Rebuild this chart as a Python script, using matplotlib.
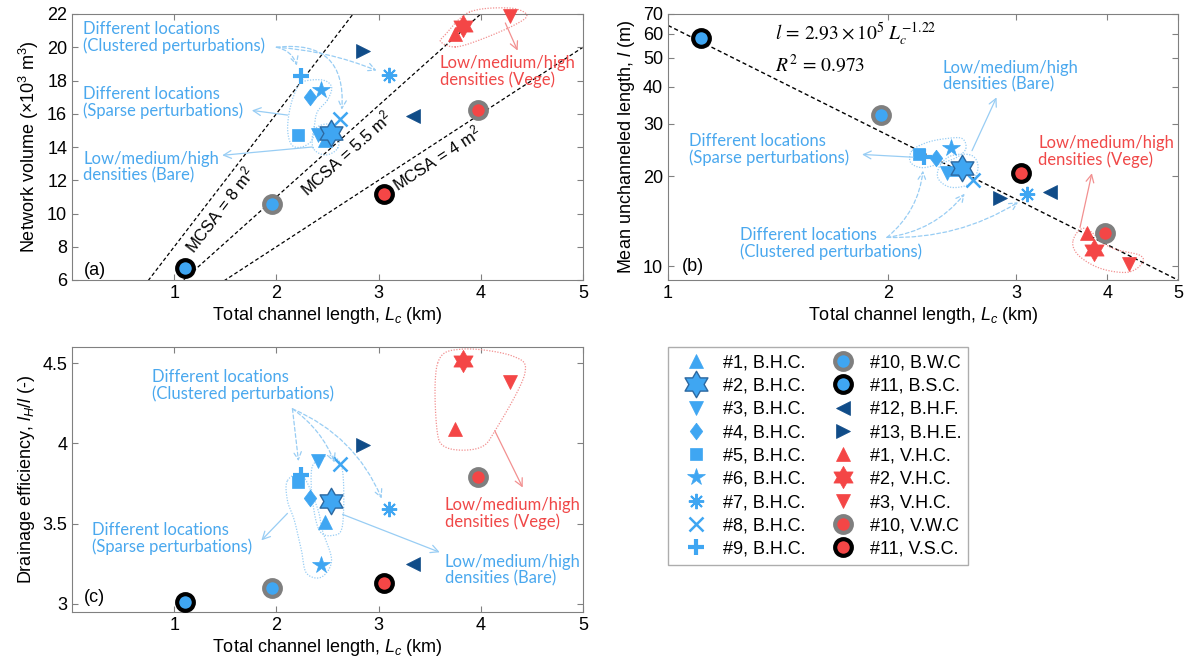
import numpy as np
import matplotlib
matplotlib.use("Agg")
import matplotlib.pyplot as plt
from matplotlib.path import Path
from matplotlib.ticker import ScalarFormatter, NullLocator

plt.rcParams["font.family"] = ["Liberation Sans", "DejaVu Sans"]
plt.rcParams["mathtext.fontset"] = "custom"
plt.rcParams["mathtext.rm"] = "Liberation Sans"
plt.rcParams["mathtext.it"] = "Liberation Sans:italic"
plt.rcParams["mathtext.bf"] = "Liberation Sans:bold"

# Runs: bare (B) and vegetated (V) plots
labels = ["#1, B.H.C.", "#2, B.H.C.", "#3, B.H.C.", "#4, B.H.C.", "#5, B.H.C.",
          "#6, B.H.C.", "#7, B.H.C.", "#8, B.H.C.", "#9, B.H.C.",
          "#10, B.W.C", "#11, B.S.C.", "#12, B.H.F.", "#13, B.H.E.",
          "#1, V.H.C.", "#2, V.H.C.", "#3, V.H.C.", "#10, V.W.C", "#11, V.S.C."]

# Total channel length Lc (km)
lc_km = [2.48, 2.53, 2.41, 2.33, 2.21, 2.44, 3.10, 2.62, 2.24,
         1.96, 1.11, 3.34, 2.85, 3.75, 3.83, 4.29, 3.97, 3.05]
# Network volume (x10^3 m^3)
volume = [14.4, 14.85, 14.7, 17.0, 14.7, 17.45, 18.35, 15.7, 18.3,
          10.55, 6.7, 15.85, 19.75, 20.8, 21.3, 21.85, 16.2, 11.2]
# Mean unchanneled length l (m)
unchanneled = [21.2, 21.3, 20.5, 23.0, 23.8, 25.0, 17.5, 19.4, 23.2,
               32.2, 58.3, 17.7, 17.0, 12.9, 11.3, 10.2, 12.9, 20.5]
# Drainage efficiency lH/l (-)
efficiency = [3.51, 3.64, 3.89, 3.66, 3.76, 3.24, 3.59, 3.87, 3.80,
              3.10, 3.01, 3.25, 3.99, 4.09, 4.51, 4.38, 3.79, 3.13]

# MCSA reference lines (m^2) and the power-law fit of l against Lc
mcsa_values = [8, 5.5, 4]
fit_coef, fit_exp, fit_r2 = 2.93e5, -1.22, 0.973

BLUE = "#3fa6f2"
DARK = "#104c88"
RED = "#f44646"
GREY = "#7f7f7f"
TXT_BLUE = "#4aa8ee"
ARR_BLUE = "#98cdf4"
TXT_RED = "#f04848"
ARR_RED = "#f29090"

hexagram = Path.unit_regular_star(6, 1 / np.sqrt(3))
diamond = [(0, 1), (0.75, 0), (0, -1), (-0.75, 0), (0, 1)]

# marker, size, face, edge, edge width
styles = [
    ("^", 10, BLUE, BLUE, 0.5),
    (hexagram, 19, BLUE, "#2c68a0", 1.0),
    ("v", 10, BLUE, BLUE, 0.5),
    (diamond, 12, BLUE, BLUE, 0.5),
    ("s", 8, BLUE, BLUE, 0.5),
    ("*", 13, BLUE, BLUE, 0.5),
    ((8, 2, 0), 11, BLUE, BLUE, 1.4),
    ("x", 10, BLUE, BLUE, 1.8),
    ("+", 12, BLUE, BLUE, 3.0),
    ("o", 12, BLUE, GREY, 3.0),
    ("o", 12, BLUE, "black", 3.0),
    ("<", 10, DARK, DARK, 0.5),
    (">", 10, DARK, DARK, 0.5),
    ("^", 10, RED, RED, 0.5),
    (hexagram, 16, RED, RED, 0.5),
    ("v", 10, RED, RED, 0.5),
    ("o", 12, RED, GREY, 3.0),
    ("o", 12, RED, "black", 3.0),
]

W, H = 1189, 664
fig = plt.figure(figsize=(W / 100, H / 100), dpi=100)


def box(l, t, r, b):
    return [l / W, 1 - b / H, (r - l) / W, (b - t) / H]


ax_a = fig.add_axes(box(72, 14, 583, 280))
ax_b = fig.add_axes(box(668, 14, 1178, 280))
ax_c = fig.add_axes(box(72, 347, 583, 612))

for ax in (ax_a, ax_b, ax_c):
    for sp in ax.spines.values():
        sp.set_color("#808080")
    ax.tick_params(direction="in", length=4, top=True, right=True,
                   color="#808080", labelsize=13, labelcolor="black")

ax_a.set_xlim(0, 5)
ax_a.set_ylim(6, 22)
ax_a.set_xticks([1, 2, 3, 4, 5])
ax_a.set_yticks(np.arange(6, 23, 2))

ax_b.set_xscale("log")
ax_b.set_yscale("log")
ax_b.set_xlim(1, 5)
ax_b.set_ylim(9, 70)
ax_b.set_xticks([1, 2, 3, 4, 5])
ax_b.set_yticks([10, 20, 30, 40, 50, 60, 70])
for axis in (ax_b.xaxis, ax_b.yaxis):
    axis.set_major_formatter(ScalarFormatter())
    axis.set_minor_locator(NullLocator())

ax_c.set_xlim(0, 5)
ax_c.set_ylim(2.95, 4.6)
ax_c.set_xticks([1, 2, 3, 4, 5])
ax_c.set_yticks([3, 3.5, 4, 4.5])
ax_c.set_yticklabels(["3", "3.5", "4", "4.5"])

xlab = "Total channel length, $L_c$ (km)"
for ax in (ax_a, ax_b, ax_c):
    ax.set_xlabel(xlab, fontsize=13, labelpad=2)
ax_a.set_ylabel("Network volume (×10$^3$ m$^3$)", fontsize=13)
ax_b.set_ylabel("Mean unchanneled length, $l$ (m)", fontsize=13)
ax_c.set_ylabel("Drainage efficiency, $l_H$/$l$ (-)", fontsize=13)

# MCSA lines: V = MCSA * Lc, labels sit just below each line
xx = np.linspace(0, 5, 50)
label_x = [1.34, 2.59, 3.50]
for m, lx in zip(mcsa_values, label_x):
    ax_a.plot(xx, m * xx, ls=(0, (3, 2)), lw=0.9, color="black", zorder=1)
    p0 = ax_a.transData.transform((lx, m * lx))
    p1 = ax_a.transData.transform((lx + 0.1, m * (lx + 0.1)))
    ang = np.arctan2(p1[1] - p0[1], p1[0] - p0[0])
    ax_a.annotate(f"MCSA = {m:g} m$^2$", xy=(lx, m * lx),
                  xytext=(2.5 * np.sin(ang), -2.5 * np.cos(ang)),
                  textcoords="offset points", fontsize=12,
                  rotation=np.degrees(ang), rotation_mode="anchor",
                  ha="center", va="top", zorder=1)

# power-law fit (Lc in m)
lf = np.linspace(1, 5, 100)
ax_b.plot(lf, fit_coef * (lf * 1000) ** fit_exp, ls=(0, (3, 2)), lw=1.0,
          color="black", zorder=1)
ax_b.text(1.40, 60, r"$l\,=\,2.93\times10^{5}\ L_c^{-1.22}$", fontsize=14,
          math_fontfamily="stix", va="center", ha="left")
ax_b.text(1.40, 47.5, rf"$R^2\,=\,{fit_r2}$", fontsize=14,
          math_fontfamily="stix", va="center", ha="left")

handles = []
for ax, yvals in ((ax_a, volume), (ax_b, unchanneled), (ax_c, efficiency)):
    for i, (mk, ms, fc, ec, mew) in enumerate(styles):
        z = 4 if mk is hexagram else 3
        h, = ax.plot(lc_km[i], yvals[i], ls="none", marker=mk, ms=ms,
                     mfc=fc, mec=ec, mew=mew, zorder=z, clip_on=False)
        if ax is ax_a:
            handles.append(h)


def outline(ax, pts, color):
    # closed Catmull-Rom loop, computed in display space
    P = ax.transData.transform(np.array(pts))
    n = len(P)
    t = np.linspace(0, 1, 20)[:, None]
    segs = []
    for i in range(n):
        p0, p1, p2, p3 = P[i - 1], P[i], P[(i + 1) % n], P[(i + 2) % n]
        segs.append(0.5 * (2 * p1 + (-p0 + p2) * t
                           + (2 * p0 - 5 * p1 + 4 * p2 - p3) * t ** 2
                           + (-p0 + 3 * p1 - 3 * p2 + p3) * t ** 3))
    q = ax.transData.inverted().transform(np.vstack(segs))
    ax.plot(q[:, 0], q[:, 1], ls=(0, (1, 1.2)), lw=0.9, color=color,
            zorder=2, clip_on=False)


def arrow(ax, src, dst, color, dashed=False, rad=0.0):
    ax.annotate("", xy=dst, xytext=src,
                arrowprops=dict(arrowstyle="->,head_length=0.55,head_width=0.28",
                                color=color, lw=0.9,
                                linestyle=(0, (3, 2)) if dashed else "-",
                                connectionstyle=f"arc3,rad={rad}",
                                shrinkA=0, shrinkB=0), annotation_clip=False)


def note(ax, x, y, s, color):
    ax.text(x, y, s, fontsize=12, color=color, family="Lato",
            ha="left", va="top", linespacing=1.03)


clustered = "Different locations\n(Clustered perturbations)"
sparse = "Different locations\n(Sparse perturbations)"
bare = "Low/medium/high\ndensities (Bare)"
vege = "Low/medium/high\ndensities (Vege)"

# (a)
note(ax_a, 0.11, 21.55, clustered, TXT_BLUE)
note(ax_a, 0.11, 17.65, sparse, TXT_BLUE)
note(ax_a, 0.11, 13.75, bare, TXT_BLUE)
note(ax_a, 3.60, 19.55, vege, TXT_RED)
outline(ax_a, [(2.25, 17.91), (2.45, 18.03), (2.54, 17.61), (2.50, 16.83),
               (2.40, 16.11), (2.37, 15.20), (2.35, 14.42), (2.25, 14.00),
               (2.15, 14.12), (2.11, 15.02), (2.13, 16.23), (2.18, 17.25)], ARR_BLUE)
outline(ax_a, [(2.37, 15.02), (2.50, 15.38), (2.60, 14.90), (2.60, 13.94),
               (2.48, 13.52), (2.36, 13.94)], ARR_BLUE)
outline(ax_a, [(3.65, 20.74), (3.89, 22.12), (4.28, 22.36), (4.45, 21.94),
               (4.33, 21.34), (3.99, 20.44), (3.75, 20.02), (3.61, 20.32)], ARR_RED)
arrow(ax_a, (2.0, 20.0), (2.20, 18.9), ARR_BLUE, True, -0.3)
arrow(ax_a, (2.0, 20.0), (2.98, 18.6), ARR_BLUE, True, -0.08)
arrow(ax_a, (2.0, 20.0), (2.64, 16.25), ARR_BLUE, True, -0.6)
arrow(ax_a, (2.11, 15.92), (1.76, 16.2), ARR_BLUE)
arrow(ax_a, (2.35, 14.0), (1.47, 13.5), ARR_BLUE)
arrow(ax_a, (4.24, 21.46), (4.36, 19.8), ARR_RED)
ax_a.text(0.12, 6.55, "(a)", fontsize=13, va="center")

# (b)
note(ax_b, 1.068, 28.0, sparse, TXT_BLUE)
note(ax_b, 1.255, 13.5, clustered, TXT_BLUE)
note(ax_b, 2.38, 49.0, bare, TXT_BLUE)
note(ax_b, 3.215, 27.6, vege, TXT_RED)
outline(ax_b, [(2.16, 24.4), (2.265, 26.0), (2.41, 26.8), (2.53, 26.8),
               (2.56, 24.8), (2.49, 23.2), (2.36, 22.1), (2.23, 21.4),
               (2.15, 22.3)], ARR_BLUE)
outline(ax_b, [(2.36, 21.8), (2.45, 23.5), (2.61, 23.5), (2.66, 21.3),
               (2.59, 18.9), (2.44, 18.4), (2.345, 19.7)], ARR_BLUE)
outline(ax_b, [(3.59, 12.2), (3.73, 13.4), (4.04, 11.57), (4.43, 10.9),
               (4.46, 10.2), (4.26, 9.55), (3.91, 9.85), (3.65, 10.9)], ARR_RED)
arrow(ax_b, (2.167, 23.2), (1.845, 23.7), ARR_BLUE)
arrow(ax_b, (1.996, 12.5), (2.236, 20.9), ARR_BLUE, True, 0.2)
arrow(ax_b, (1.996, 12.5), (2.55, 17.5), ARR_BLUE, True, 0.2)
arrow(ax_b, (1.996, 12.5), (3.02, 16.4), ARR_BLUE, True, 0.15)
arrow(ax_b, (2.61, 24.4), (2.82, 36.8), ARR_BLUE)
arrow(ax_b, (3.67, 13.5), (3.81, 20.5), ARR_RED)
ax_b.text(1.045, 10.0, "(b)", fontsize=13, va="center")

# (c)
note(ax_c, 0.784, 4.46, clustered, TXT_BLUE)
note(ax_c, 0.196, 3.51, sparse, TXT_BLUE)
note(ax_c, 3.647, 3.31, bare, TXT_BLUE)
note(ax_c, 3.647, 3.665, vege, TXT_RED)
outline(ax_c, [(2.108, 3.768), (2.255, 3.80), (2.40, 3.60), (2.45, 3.458),
               (2.54, 3.272), (2.44, 3.167), (2.294, 3.192), (2.245, 3.334),
               (2.176, 3.52), (2.108, 3.644)], ARR_BLUE)
outline(ax_c, [(2.40, 3.892), (2.54, 3.923), (2.647, 3.83), (2.647, 3.49),
               (2.55, 3.427), (2.42, 3.458), (2.353, 3.644), (2.343, 3.83)], ARR_BLUE)
outline(ax_c, [(3.578, 4.5), (3.824, 4.587), (4.314, 4.543), (4.43, 4.432),
               (4.157, 4.097), (3.99, 3.973), (3.667, 3.973), (3.569, 4.097)], ARR_RED)
arrow(ax_c, (2.157, 4.215), (2.216, 3.89), ARR_BLUE, True, 0.0)
arrow(ax_c, (2.157, 4.215), (2.57, 3.88), ARR_BLUE, True, -0.15)
arrow(ax_c, (2.157, 4.215), (3.03, 3.657), ARR_BLUE, True, -0.2)
arrow(ax_c, (2.108, 3.564), (1.853, 3.396), ARR_BLUE)
arrow(ax_c, (2.647, 3.558), (3.598, 3.322), ARR_BLUE)
arrow(ax_c, (4.137, 4.078), (4.41, 3.725), ARR_RED)
ax_c.text(0.12, 3.04, "(c)", fontsize=13, va="center")

leg = fig.legend(handles, labels, ncol=2, loc="upper left",
                 bbox_to_anchor=(668 / W, 1 - 347 / H), bbox_transform=fig.transFigure,
                 fontsize=13, frameon=True, fancybox=False, edgecolor="#999999",
                 borderaxespad=0, borderpad=0.4, handlelength=2.3,
                 handletextpad=0.35, columnspacing=0.9, labelspacing=0.35,
                 numpoints=1)
leg.get_frame().set_linewidth(1.0)

fig.savefig("out.png", dpi=100)
